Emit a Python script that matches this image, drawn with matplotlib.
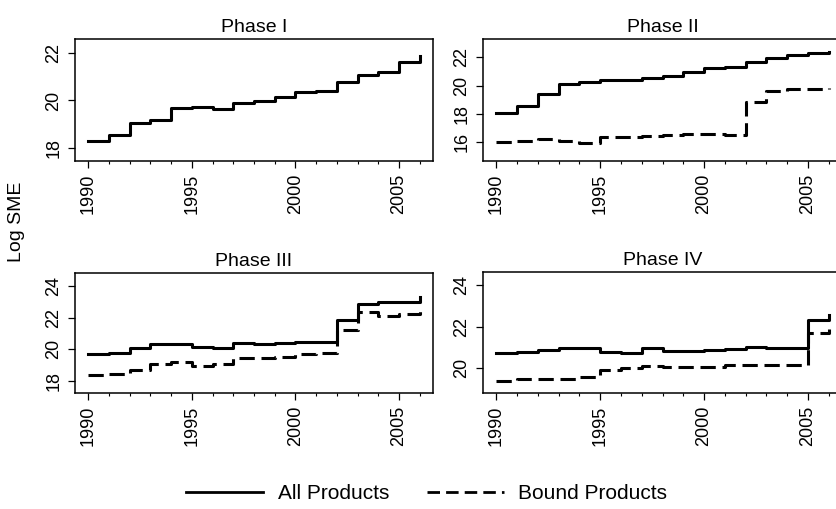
import matplotlib
matplotlib.use('Agg')
import matplotlib.pyplot as plt
from matplotlib.lines import Line2D

plt.rcParams['font.family'] = ['Liberation Sans', 'DejaVu Sans']

years = list(range(1990, 2007))

# Phase I (only all products)
p1_all = [18.31, 18.56, 19.05, 19.18, 19.67, 19.71, 19.66, 19.91, 19.99, 20.13,
          20.37, 20.41, 20.79, 21.07, 21.18, 21.60, 21.86]

# Phase II
p2_all = [18.09, 18.56, 19.39, 20.12, 20.28, 20.40, 20.40, 20.52, 20.68, 20.99,
          21.27, 21.34, 21.65, 21.93, 22.16, 22.32, 22.35]
p2_bound = [16.00, 16.12, 16.26, 16.12, 15.93, 16.40, 16.40, 16.45, 16.52, 16.56,
            16.59, 16.52, 18.87, 19.65, 19.74, 19.78, 19.81]

# Phase III
p3_all = [19.68, 19.75, 20.06, 20.32, 20.32, 20.17, 20.06, 20.38, 20.32, 20.38,
          20.48, 20.48, 21.85, 22.86, 22.97, 23.02, 23.30]
p3_bound = [18.38, 18.44, 18.69, 19.05, 19.18, 18.95, 19.07, 19.43, 19.43, 19.54,
            19.68, 19.75, 21.22, 22.34, 22.13, 22.23, 22.45]

# Phase IV
p4_all = [20.75, 20.77, 20.88, 20.96, 20.96, 20.80, 20.75, 20.96, 20.85, 20.85,
          20.88, 20.93, 21.01, 20.96, 20.96, 22.32, 22.56]
p4_bound = [19.39, 19.47, 19.49, 19.49, 19.60, 19.92, 20.00, 20.11, 20.05, 20.05,
            20.08, 20.16, 20.16, 20.15, 20.15, 21.68, 21.90]

titles = ['Phase I', 'Phase II', 'Phase III', 'Phase IV']
xticks = [1990, 1995, 2000, 2005]

DASH = (0, (5, 2.2))
LW = 2.2

fig = plt.figure(figsize=(8.37, 5.09), dpi=100)

# axes boxes in pixels: left, top, right, bottom
boxes = [(75, 39, 433, 161), (483, 39, 842, 161),
         (75, 272.7, 433, 393.3), (483, 271.7, 842, 393.3)]
ylims = [(17.47, 22.57), (14.68, 23.29), (17.22, 24.84), (18.8, 24.64)]
yticks = [[18, 20, 22], [16, 18, 20, 22], [18, 20, 22, 24], [20, 22, 24]]
series = [(p1_all, None), (p2_all, p2_bound), (p3_all, p3_bound), (p4_all, p4_bound)]

W, H = 837.0, 509.0
for i in range(4):
    l, t, r, b = boxes[i]
    ax = fig.add_axes([l / W, 1 - b / H, (r - l) / W, (b - t) / H])
    solid, dashed = series[i]
    ax.step(years, solid, where='post', color='black', lw=LW)
    if dashed is not None:
        ax.step(years, dashed, where='post', color='black', lw=LW, linestyle=DASH)
    ax.set_xlim(1989.36, 2006.64)
    ax.set_ylim(*ylims[i])
    ax.set_xticks(xticks)
    ax.set_xticklabels([str(x) for x in xticks], rotation=90, fontsize=13)
    ax.set_xticks(years, minor=True)
    ax.set_yticks(yticks[i])
    ax.set_yticklabels([str(v) for v in yticks[i]], rotation=90, va='center', fontsize=13)
    ax.tick_params(axis='both', which='major', length=5, width=0.9, pad=4, direction='out')
    ax.tick_params(axis='x', which='minor', length=2, width=0.8)
    for s in ax.spines.values():
        s.set_linewidth(1.1)
    ax.set_title(titles[i], fontsize=14, pad=5)

fig.text(0.02, 0.564, 'Log SME', rotation=90, ha='center', va='center', fontsize=14)

handles = [Line2D([], [], color='black', lw=2),
           Line2D([], [], color='black', lw=2, linestyle=(0, (4.5, 2.2)))]
fig.legend(handles, ['All Products', 'Bound Products'], loc='center',
           bbox_to_anchor=(0.51, 0.03), ncol=2, frameon=False, fontsize=15,
           handlelength=3.7, handletextpad=0.7, columnspacing=1.8)

fig.savefig('out.png', dpi=100)
